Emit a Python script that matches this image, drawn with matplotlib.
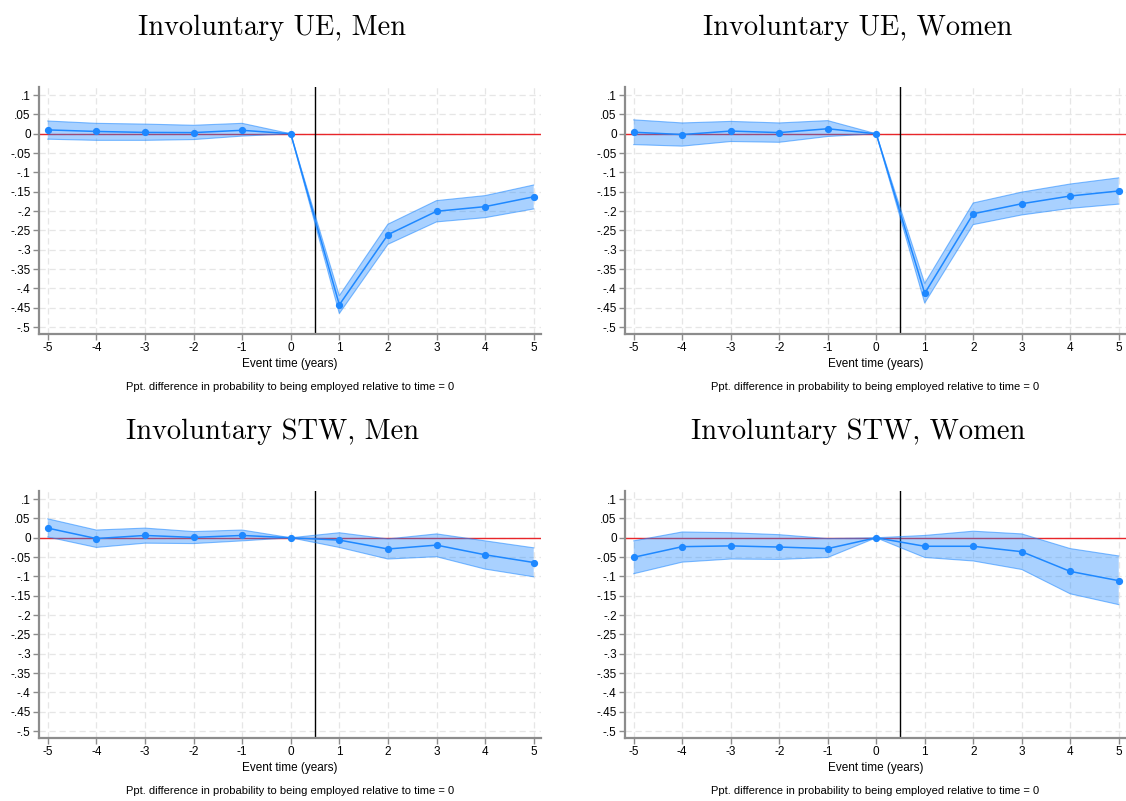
import matplotlib
matplotlib.use("Agg")
import matplotlib.pyplot as plt
import numpy as np

event_time = [-5, -4, -3, -2, -1, 0, 1, 2, 3, 4, 5]
xtick_labels = ["-5", "-4", "-3", "-2", "-1", "0", "1", "2", "3", "4", "5"]
ytick_values = [0.1, 0.05, 0, -0.05, -0.1, -0.15, -0.2, -0.25, -0.3, -0.35, -0.4, -0.45, -0.5]
ytick_labels = [".1", ".05", "0", "-.05", "-.1", "-.15", "-.2", "-.25", "-.3", "-.35", "-.4", "-.45", "-.5"]

titles = ["Involuntary UE, Men", "Involuntary UE, Women",
          "Involuntary STW, Men", "Involuntary STW, Women"]

ue_men_est = [0.010, 0.006, 0.0035, 0.003, 0.009, 0.0, -0.4425, -0.261, -0.2005, -0.1885, -0.163]
ue_men_hi = [0.033, 0.027, 0.025, 0.022, 0.027, 0.0, -0.419, -0.234, -0.173, -0.160, -0.1325]
ue_men_lo = [-0.014, -0.017, -0.017, -0.015, -0.006, 0.0, -0.465, -0.286, -0.228, -0.217, -0.1945]

ue_women_est = [0.004, -0.002, 0.007, 0.003, 0.013, 0.0, -0.413, -0.207, -0.181, -0.161, -0.148]
ue_women_hi = [0.036, 0.028, 0.032, 0.028, 0.034, 0.0, -0.387, -0.179, -0.151, -0.130, -0.114]
ue_women_lo = [-0.028, -0.032, -0.020, -0.022, -0.007, 0.0, -0.438, -0.235, -0.210, -0.193, -0.182]

stw_men_est = [0.025, -0.002, 0.006, 0.001, 0.006, 0.0, -0.006, -0.029, -0.019, -0.044, -0.064]
stw_men_hi = [0.049, 0.020, 0.025, 0.016, 0.020, 0.0, 0.013, -0.003, 0.010, -0.008, -0.026]
stw_men_lo = [0.002, -0.025, -0.014, -0.015, -0.008, 0.0, -0.025, -0.055, -0.049, -0.081, -0.101]

stw_women_est = [-0.0505, -0.023, -0.021, -0.024, -0.028, 0.0, -0.022, -0.022, -0.036, -0.087, -0.111]
stw_women_hi = [-0.008, 0.015, 0.013, 0.008, -0.002, 0.0, 0.006, 0.017, 0.010, -0.028, -0.047]
stw_women_lo = [-0.093, -0.063, -0.055, -0.056, -0.051, 0.0, -0.051, -0.060, -0.082, -0.145, -0.173]

panels = [
    (ue_men_est, ue_men_lo, ue_men_hi),
    (ue_women_est, ue_women_lo, ue_women_hi),
    (stw_men_est, stw_men_lo, stw_men_hi),
    (stw_women_est, stw_women_lo, stw_women_hi),
]

xlabel = "Event time (years)"
note = "Ppt. difference in probability to being employed relative to time = 0"

plt.rcParams['font.family'] = ['Liberation Sans', 'DejaVu Sans']

fig = plt.figure(figsize=(11.26, 8.01), dpi=100)
W, H = 1126.0, 801.0

# axes boxes in pixels: left, top, right, bottom
boxes = [(39, 87, 541, 334), (625, 87, 1126, 334),
         (39, 491, 541, 738), (625, 491, 1126, 738)]
title_pos = [(272, 28), (858, 28), (272, 432), (858, 432)]

blue = '#1e88ff'
for i, (est, lo, hi) in enumerate(panels):
    l, t, r, b = boxes[i]
    ax = fig.add_axes([l / W, 1 - b / H, (r - l) / W, (b - t) / H])
    ax.set_xlim(-5.18, 5.15)
    ax.set_ylim(-0.518, 0.121)
    for s in ['top', 'right']:
        ax.spines[s].set_visible(False)
    for s in ['left', 'bottom']:
        ax.spines[s].set_color('#8c8c8c')
        ax.spines[s].set_linewidth(1.6)
    ax.set_xticks(event_time)
    ax.set_xticklabels(xtick_labels)
    ax.set_yticks(ytick_values)
    ax.set_yticklabels(ytick_labels)
    ax.tick_params(axis='both', colors='#8c8c8c', labelcolor='black', length=4, width=1,
                   labelsize=8.5, pad=2)
    ax.grid(True, color='#e6e6e6', linestyle=(0, (5, 3)), linewidth=0.9)
    ax.set_axisbelow(True)
    ax.axhline(0, color='#e8262a', linewidth=1.0, zorder=1)
    ax.axvline(0.5, color='black', linewidth=1.0, zorder=1.5)
    ax.fill_between(event_time, lo, hi, facecolor=blue, alpha=0.38, edgecolor='none', zorder=2)
    ax.plot(event_time, lo, color=blue, alpha=0.55, linewidth=0.8, zorder=2.1)
    ax.plot(event_time, hi, color=blue, alpha=0.55, linewidth=0.8, zorder=2.1)
    ax.plot(event_time, est, color=blue, linewidth=1.1, marker='o', markersize=4.2, zorder=3)
    ax.set_xlabel(xlabel, fontsize=8.5, labelpad=3)
    cx = (l + r) / 2.0
    fig.text(cx / W, 1 - (b + 53) / H, note, fontsize=8.0, ha='center', va='center')
    tx, ty = title_pos[i]
    fig.text(tx / W, 1 - ty / H, titles[i], family='cmr10', fontsize=20.5, ha='center', va='center')

fig.savefig('out.png', dpi=100, facecolor='white')
